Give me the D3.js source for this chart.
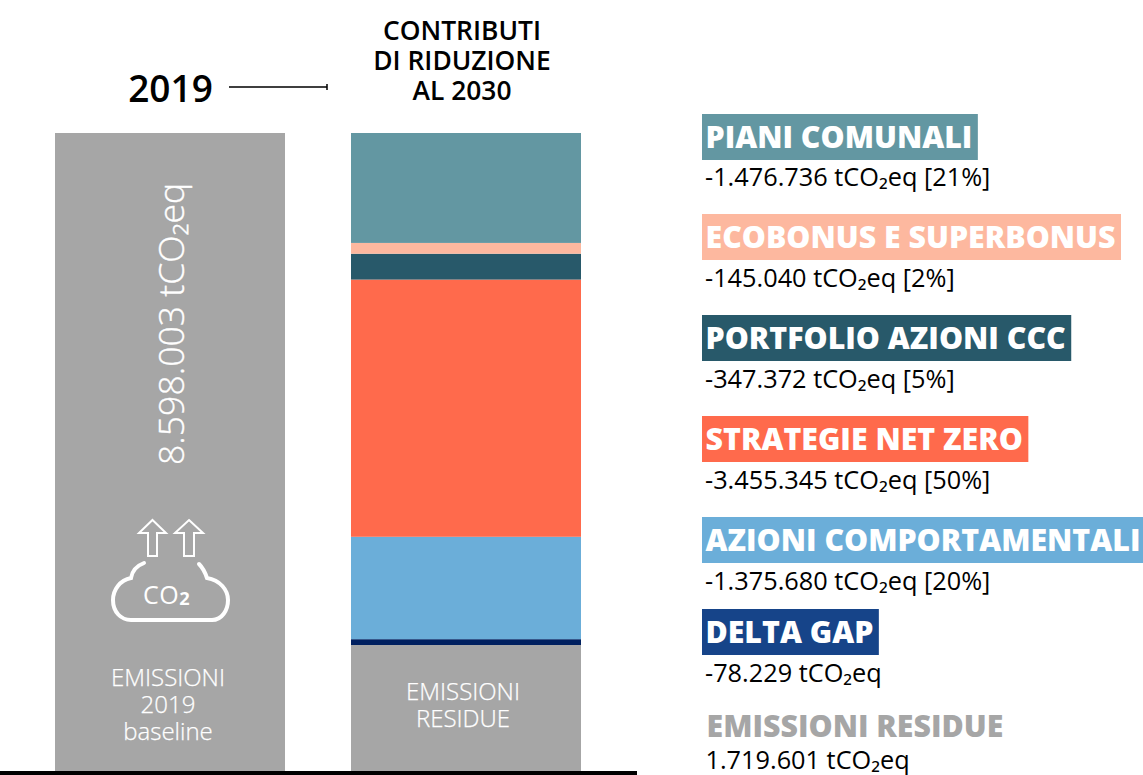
<!DOCTYPE html>
<html>
<head>
<meta charset="utf-8">
<script src="https://cdn.jsdelivr.net/npm/d3@7"></script>
<style>
html, body { margin: 0; padding: 0; background: #fff; overflow: hidden; }
text { font-family: "Open Sans", sans-serif; }
</style>
</head>
<body>
<script>
const width = 1143;
const height = 775;

const bar_names = ['2019', '2030'];
const baseline_value = 8598003;
const categories = ['EMISSIONI RESIDUE', 'DELTA GAP', 'AZIONI COMPORTAMENTALI', 'STRATEGIE NET ZERO', 'PORTFOLIO AZIONI CCC', 'ECOBONUS E SUPERBONUS', 'PIANI COMUNALI'];
const values = [1719601, 78229, 1375680, 3455345, 347372, 145040, 1476736];
const shares = [null, null, 20, 50, 5, 2, 21];
const bar_colors = ['#a6a6a6', '#002060', '#6baed9', '#ff6a4c', '#28596a', '#fdb89f', '#6397a2'];
const label_colors = ['none', '#164489', '#6baed9', '#ff6a4c', '#28596a', '#fdb89f', '#6397a2'];
const legend_tops = [null, 609, 517, 416, 315, 214, 114];
const value_baselines = [769, 682, 590, 489, 388, 287, 186];
const title_lines = ['CONTRIBUTI', 'DI RIDUZIONE', 'AL 2030'];
const left_lines = ['EMISSIONI', '2019', 'baseline'];
const right_lines = ['EMISSIONI', 'RESIDUE'];

const svg = d3.select('body')
    .append('svg')
    .attr('width', width)
    .attr('height', height)
    .style('display', 'block');

const x_scale = d3.scaleBand()
    .domain(bar_names)
    .range([55, 581])
    .paddingInner(0.223);
const y_scale = d3.scaleLinear()
    .domain([0, baseline_value])
    .range([773, 133]);

const it_format = d3.formatLocale({decimal: ',', thousands: '.', grouping: [3], currency: ['', '']}).format(',d');
const unit = ' tCO₂eq';

// left bar
svg.append('rect')
    .attr('x', x_scale('2019'))
    .attr('y', y_scale(baseline_value))
    .attr('width', x_scale.bandwidth())
    .attr('height', y_scale(0) - y_scale(baseline_value))
    .attr('fill', '#a6a6a6');

// right stacked bar
const row = {};
categories.forEach((c, i) => row[c] = values[i]);
const stack_data = d3.stack().keys(categories)([row]);
svg.append('g').selectAll('rect')
    .data(stack_data)
    .enter().append('rect')
    .attr('x', x_scale('2030'))
    .attr('width', x_scale.bandwidth())
    .attr('y', d => y_scale(d[0][1]))
    .attr('height', d => y_scale(d[0][0]) - y_scale(d[0][1]))
    .attr('fill', (d, i) => bar_colors[i]);

// ground line
svg.append('rect')
    .attr('x', 0)
    .attr('y', 771)
    .attr('width', 637)
    .attr('height', 4)
    .attr('fill', '#000');

// header
svg.append('text')
    .attr('x', 170.5)
    .attr('y', 102)
    .attr('text-anchor', 'middle')
    .attr('font-size', 37)
    .attr('font-weight', 600)
    .text(bar_names[0]);
svg.append('path')
    .attr('d', 'M229,87H327M327,84V90')
    .attr('stroke', '#000')
    .attr('stroke-width', 1.5)
    .attr('fill', 'none');
svg.append('g').selectAll('text')
    .data(title_lines)
    .enter().append('text')
    .attr('x', 462)
    .attr('y', (d, i) => 40 + i * 30)
    .attr('text-anchor', 'middle')
    .attr('font-size', 26.4)
    .attr('font-weight', 600)
    .text(d => d);

// text inside bars
svg.append('text')
    .attr('transform', 'translate(183.5,465) rotate(-90)')
    .attr('font-size', 35.6)
    .attr('font-weight', 300)
    .attr('fill', '#fff')
    .attr('stroke', '#fff')
    .attr('stroke-width', 0.35)
    .text(it_format(baseline_value) + unit);
svg.append('g').selectAll('text')
    .data(left_lines)
    .enter().append('text')
    .attr('x', 168)
    .attr('y', (d, i) => 686 + i * 27)
    .attr('text-anchor', 'middle')
    .attr('font-size', 24)
    .attr('font-weight', 300)
    .attr('fill', '#fff')
    .attr('stroke', '#fff')
    .attr('stroke-width', 0.25)
    .text(d => d);
svg.append('g').selectAll('text')
    .data(right_lines)
    .enter().append('text')
    .attr('x', 463)
    .attr('y', (d, i) => 700 + i * 27)
    .attr('text-anchor', 'middle')
    .attr('font-size', 24)
    .attr('font-weight', 300)
    .attr('fill', '#fff')
    .attr('stroke', '#fff')
    .attr('stroke-width', 0.25)
    .text(d => d);

// co2 icon
const icon = svg.append('g')
    .attr('fill', 'none')
    .attr('stroke', '#fff');
[[152.5, 148, 157, 139, 166], [189, 184, 194, 175, 203]].forEach(([tip, s0, s1, h0, h1]) => {
    icon.append('path')
        .attr('d', `M${tip},520L${h1},533H${s1}V556H${s0}V533H${h0}Z`)
        .attr('stroke-width', 2);
});
icon.append('path')
    .attr('stroke-linecap', 'round')
    .attr('stroke-width', 4)
    .attr('d', 'M144,563C136,566 132,572 131,578C120,580 113,590 113,600C113,612 121,620 131,620H212C222,620 228,610 228,600C228,590 220,580 207,578C205,572 203,568 199,564');
const icon_label = icon.append('text')
    .attr('x', 143)
    .attr('y', 604)
    .attr('font-size', 25)
    .attr('letter-spacing', 0.5)
    .attr('fill', '#fff')
    .attr('stroke', 'none');
icon_label.append('tspan').text('CO');
icon_label.append('tspan')
    .attr('dy', -3)
    .attr('font-size', 30)
    .attr('font-weight', 600)
    .text('₂');

// legend
const legend = svg.append('g');
categories.forEach((name, i) => {
    if (i === 0) return;
    const top = legend_tops[i];
    const box = legend.append('rect')
        .attr('x', 702)
        .attr('y', top)
        .attr('height', 46)
        .attr('fill', label_colors[i]);
    const label = legend.append('text')
        .attr('x', 705.5)
        .attr('y', top + 34)
        .attr('font-size', 30.3)
        .attr('font-weight', 800)
        .attr('fill', '#fff')
        .text(name);
    box.attr('width', label.node().getComputedTextLength() + 9);
    legend.append('text')
        .attr('x', 705)
        .attr('y', value_baselines[i])
        .attr('font-size', 25.3)
        .attr('fill', '#000')
        .text(it_format(-values[i]).replace('−', '-') + unit + (shares[i] === null ? '' : ` [${shares[i]}%]`));
});
legend.append('text')
    .attr('x', 706.5)
    .attr('y', 737)
    .attr('font-size', 30.3)
    .attr('font-weight', 800)
    .attr('fill', '#a6a6a6')
    .text(categories[0]);
legend.append('text')
    .attr('x', 705.5)
    .attr('y', value_baselines[0])
    .attr('font-size', 25.3)
    .attr('fill', '#000')
    .text(it_format(values[0]) + unit);
</script>
</body>
</html>
